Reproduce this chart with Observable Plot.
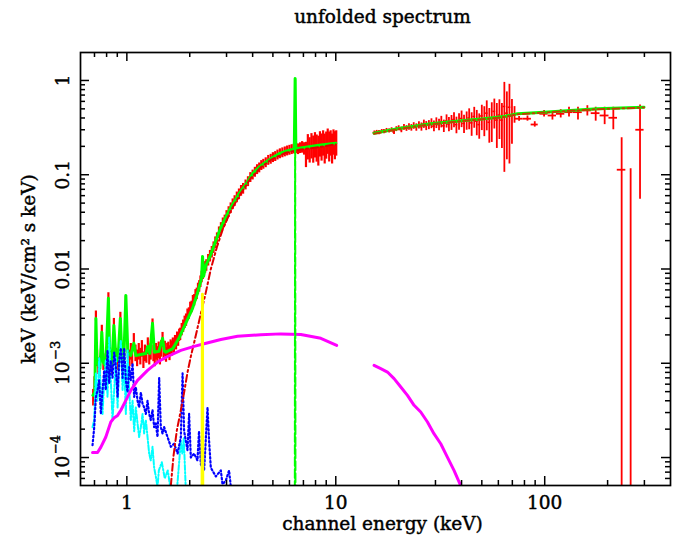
<!DOCTYPE html>
<html><head><meta charset="utf-8">
<script src="https://cdn.jsdelivr.net/npm/d3@7"></script>
<script src="https://cdn.jsdelivr.net/npm/@observablehq/plot@0.6"></script>
<style>body{margin:0;background:#fff;}</style>
</head><body><div id="chart"></div>
<script>
// ---- axes / ticks ----
const xDomain = [0.6, 400];
const yDomain = [5.05e-5, 1.98];
const xMajor = [1, 10, 100];
const xMajorLabels = ["1", "10", "100"];
const xMinor = [0.7,0.8,0.9,2,3,4,5,6,7,8,9,20,30,40,50,60,70,80,90,200,300];
const yMajor = [1e-4, 1e-3, 0.01, 0.1, 1];
const yPlain = [0.01, 0.1, 1];
const yPlainLabels = ["0.01", "0.1", "1"];
const yPow = [1e-4, 1e-3];
const yPowBase = ["10", "10"];
const yPowExp = ["\u22124", "\u22123"];
const yMinor = [6e-5,7e-5,8e-5,9e-5, 2e-4,3e-4,4e-4,5e-4,6e-4,7e-4,8e-4,9e-4,
  2e-3,3e-3,4e-3,5e-3,6e-3,7e-3,8e-3,9e-3, 0.02,0.03,0.04,0.05,0.06,0.07,0.08,0.09,
  0.2,0.3,0.4,0.5,0.6,0.7,0.8,0.9];
const titleText = "unfolded spectrum";
const xLabel = "channel energy (keV)";
const yLabel = "keV (keV/cm\u00B2 s keV)";

// ---- red data, 0.7-10 keV (energy, flux, relative error) ----
const dataLoE = [0.69,0.70,0.711,0.72,0.73,0.743,0.759,0.772,0.785,0.80,
  0.816,0.83,0.848,0.867,0.886,0.906,0.931,0.946,0.967,0.989,
  1.011,1.03,1.045,1.06,1.08,1.10,1.12,1.14,1.16,1.18,
  1.20,1.22,1.24,1.26,1.28,1.30,1.327,1.34,1.36,1.38,
  1.40,1.42,1.44,1.46,1.482,1.50,1.52,1.54,1.56,1.58,
  1.60,1.62,1.64,1.66,1.68,1.70,1.72,1.74,1.76,1.78,
  1.80,1.83,1.86,1.89,1.92,1.95,1.98,2.01,2.04,2.07,
  2.10,2.13,2.16,2.19,2.22,2.25,2.28,2.31,2.34,2.37,
  2.40,2.45,2.50,2.55,2.60,2.65,2.70,2.76,2.82,2.88,
  2.94,3.00,3.07,3.14,3.21,3.28,3.36,3.44,3.52,3.60,
  3.70,3.80,3.90,4.00,4.10,4.20,4.30,4.40,4.50,4.62,
  4.75,4.88,5.00,5.13,5.26,5.40,5.55,5.70,5.85,6.00,
  6.15,6.30,6.45,6.60,6.75,6.90,7.05,7.20,7.35,7.50,
  7.65,7.80,7.95,8.10,8.25,8.40,8.55,8.70,8.85,9.00,
  9.15,9.30,9.45,9.60,9.75,9.90,10.05];
const dataLoF = [4.4e-4,6.0e-4,3.2e-3,1.15e-3,9.5e-4,8.8e-4,2.2e-3,1.05e-3,9.0e-4,1.0e-3,
  5.0e-3,1.15e-3,9.5e-4,2.6e-3,1.2e-3,1.05e-3,3.1e-3,1.25e-3,1.1e-3,4.6e-3,
  1.4e-3,1.15e-3,1.35e-3,1.2e-3,1.75e-3,1.3e-3,1.15e-3,1.35e-3,1.2e-3,1.45e-3,
  1.1e-3,1.3e-3,1.25e-3,1.55e-3,1.2e-3,1.35e-3,2.5e-3,1.3e-3,1.15e-3,1.35e-3,
  1.25e-3,1.4e-3,1.2e-3,1.45e-3,1.8e-3,1.3e-3,1.45e-3,1.25e-3,1.38e-3,1.42e-3,
  1.3e-3,1.5e-3,1.45e-3,1.6e-3,1.5e-3,1.7e-3,1.65e-3,1.85e-3,1.8e-3,2.0e-3,
  2.05e-3,2.3e-3,2.5e-3,2.75e-3,2.9e-3,3.3e-3,3.4e-3,3.9e-3,4.0e-3,4.6e-3,
  4.7e-3,5.3e-3,5.5e-3,6.2e-3,6.6e-3,7.4e-3,8.3e-3,9.0e-3,9.6e-3,1.05e-2,
  0.0110,0.0125,0.0138,0.0152,0.0170,0.0192,0.0212,0.0245,0.0272,0.0305,
  0.0330,0.0368,0.0405,0.0445,0.049,0.053,0.058,0.0625,0.068,0.0715,
  0.0785,0.085,0.094,0.100,0.107,0.114,0.119,0.126,0.130,0.135,
  0.143,0.147,0.153,0.157,0.163,0.168,0.172,0.176,0.180,0.183,
  0.186,0.189,0.192,0.188,0.193,0.197,0.19,0.17,0.205,0.19,
  0.21,0.195,0.215,0.20,0.19,0.22,0.205,0.225,0.20,0.215,
  0.235,0.21,0.225,0.20,0.23,0.215,0.225];
const dataLoErr = [.2,.2,.12,.2,.2,.2,.15,.2,.2,.2,
  .12,.2,.2,.15,.2,.2,.12,.2,.2,.12,
  .2,.2,.2,.2,.18,.2,.2,.2,.2,.2,
  .2,.2,.2,.2,.2,.2,.18,.2,.2,.2,
  .2,.2,.2,.2,.18,.18,.18,.18,.18,.18,
  .18,.18,.18,.16,.16,.16,.16,.16,.16,.15,
  .15,.15,.15,.15,.15,.14,.14,.14,.14,.14,
  .14,.14,.14,.14,.14,.14,.14,.14,.14,.14,
  .14,.14,.14,.14,.14,.14,.14,.14,.14,.14,
  .13,.13,.13,.13,.13,.13,.13,.13,.13,.13,
  .12,.12,.12,.12,.12,.12,.12,.12,.12,.12,
  .12,.12,.12,.12,.12,.12,.12,.12,.12,.12,
  .12,.12,.13,.13,.13,.14,.15,.3,.3,.3,
  .3,.32,.3,.32,.35,.3,.32,.3,.35,.32,
  .3,.35,.3,.35,.3,.33,.3];

// ---- red data, 15-72 keV ----
const dataHiE = [15.3,15.7,16.1,16.6,17.0,17.5,18.0,18.5,19.0,19.5,
  20.0,20.6,21.2,21.8,22.4,23.0,23.6,24.3,25.0,25.7,
  26.4,27.1,27.9,28.7,29.5,30.3,31.2,32.0,32.9,33.9,
  34.8,35.8,36.8,37.8,38.9,40.0,41.1,42.3,43.5,44.7,
  46.0,47.3,48.6,50.0,51.4,52.8,54.3,55.8,57.4,59.0,
  60.7,62.4,64.1,65.9,67.8,69.7,71.7];
const dataHiF = [0.280,0.284,0.280,0.290,0.287,0.295,0.292,0.300,0.285,0.305,
  0.312,0.300,0.318,0.310,0.322,0.315,0.330,0.318,0.335,0.322,
  0.345,0.330,0.338,0.350,0.328,0.355,0.340,0.365,0.330,0.372,
  0.345,0.360,0.385,0.340,0.370,0.395,0.350,0.380,0.400,0.355,
  0.415,0.370,0.340,0.420,0.390,0.450,0.360,0.400,0.470,0.380,
  0.430,0.380,0.530,0.450,0.520,0.420,0.440];
const dataHiErr = [.04,.04,.05,.04,.05,.05,.05,.05,.06,.06,
  .06,.07,.07,.07,.08,.08,.08,.09,.09,.1,
  .1,.11,.11,.12,.13,.13,.14,.14,.15,.16,
  .17,.18,.18,.2,.2,.2,.22,.22,.25,.28,
  .25,.3,.3,.3,.35,.35,.4,.45,.35,.5,
  .45,.5,.8,.68,.75,.5,.2];

// ---- red data, wide bins above 75 keV ----
const binE = [75.4,82.7,89.6,99.3,108.9,119.3,130.7,144.3,160,175.4,193.6,213,233.5,257.8,285.9];
const binHalfWidth = [3.5,3.7,3.5,4.5,5,5.5,6,7,8,8.5,9.5,10,11,12,13];
const binF = [0.393,0.393,0.341,0.443,0.425,0.443,0.461,0.461,0.481,0.45,0.425,0.402,0.113,null,0.30];
const binLo = [0.37,0.37,0.32,0.41,0.38,0.40,0.41,0.38,0.42,0.37,0.34,0.30,1e-9,1e-9,0.055];
const binHi = [0.415,0.42,0.365,0.48,0.47,0.49,0.52,0.52,0.54,0.52,0.52,0.52,0.247,0.116,0.55];

// ---- total model (green) ----
const modelLoE = [0.688,0.703,0.711,0.719,0.743,0.759,0.772,0.793,0.816,0.829,
  0.848,0.867,0.886,0.906,0.931,0.946,0.967,0.989,1.011,1.045,
  1.080,1.104,1.167,1.233,1.260,1.288,1.327,1.354,1.423,1.482,
  1.512,1.537,1.660,1.774,1.894,2.063,2.162,2.278,2.303,2.328,
  2.388,2.523,2.666,2.817,2.977,3.145,3.446,3.71,3.996,4.28,
  4.625,4.995,5.356,5.83,6.33,6.39,6.44,7.19,8.32,10.0];
const modelLoF = [4.57e-4,4.91e-4,2.99e-3,1.07e-3,8.83e-4,2.13e-3,1.02e-3,9.27e-4,4.88e-3,1.07e-3,
  9.73e-4,2.52e-3,1.13e-3,1.07e-3,2.99e-3,1.21e-3,1.07e-3,5.25e-3,1.31e-3,1.21e-3,
  1.63e-3,1.21e-3,1.24e-3,1.27e-3,1.51e-3,1.27e-3,2.65e-3,1.31e-3,1.34e-3,1.84e-3,
  1.34e-3,1.31e-3,1.43e-3,1.84e-3,2.52e-3,3.82e-3,5.25e-3,7.94e-3,0.0136,8.35e-3,
  0.0109,0.0143,0.0201,0.0276,0.0355,0.045,0.0629,0.0789,0.1025,0.1195,
  0.136,0.1526,0.167,0.179,0.188,1.05,0.189,0.196,0.205,0.216];
const modelHiE = [15.25,19.73,28.5,41.1,51.2,63.9,74.0,99.2,133,178.6,298.6];
const modelHiF = [0.276,0.308,0.347,0.377,0.393,0.415,0.443,0.461,0.481,0.501,0.521];

// ---- absorbed continuum component (red dash-dot) ----
const compLoE = [1.588,1.624,1.673,1.735,1.813,1.880,1.951,2.024,2.139,2.26,
  2.388,2.523,2.696,2.880,3.145,3.512,3.92,4.377,4.887,5.75,6.80,8.23,10.0];
const compLoF = [3.5e-5,5.05e-5,1.05e-4,1.94e-4,3.17e-4,4.91e-4,8.0e-4,1.18e-3,1.98e-3,3.38e-3,
  5.65e-3,0.0100,0.0170,0.0265,0.0415,0.0635,0.092,0.120,0.144,0.171,0.185,0.196,0.210];
const compHiE = [15.25,19.73,28.5,41.1,51.2,63.9,74.0,99.2,133,178.6,298.6];
const compHiF = [0.272,0.304,0.343,0.373,0.389,0.410,0.438,0.456,0.476,0.496,0.516];

// ---- soft component (magenta) ----
const magLoE = [0.685,0.724,0.751,0.793,0.838,0.870,0.903,0.936,0.989,1.045,
  1.125,1.256,1.403,1.566,1.813,2.099,2.344,2.817,3.387,4.377,5.456,6.80,8.48,10.1];
const magLoF = [1.13e-4,1.13e-4,1.29e-4,1.65e-4,2.38e-4,2.65e-4,2.80e-4,3.17e-4,4.04e-4,5.16e-4,
  6.59e-4,8.41e-4,1.03e-3,1.18e-3,1.37e-3,1.51e-3,1.61e-3,1.79e-3,1.93e-3,2.01e-3,2.05e-3,2.02e-3,1.84e-3,1.55e-3];
const magHiE = [15.25,16.42,17.67,19.01,20.47,22.03,23.7,25.5,27.47,29.5,31.79,34.2,36.8,39.6,40.5];
const magHiF = [9.5e-4,8.77e-4,8.07e-4,6.87e-4,5.6e-4,4.57e-4,3.58e-4,3.04e-4,2.38e-4,1.79e-4,1.40e-4,1.01e-4,7.31e-5,5.05e-5,4.3e-5];

// ---- line-emission component (cyan dash-dot) ----
const cyanE = [0.685,0.698,0.711,0.724,0.737,0.751,0.765,0.779,0.793,0.808,
  0.823,0.838,0.854,0.870,0.886,0.903,0.919,0.936,0.954,0.971,
  0.989,1.008,1.026,1.045,1.065,1.084,1.104,1.125,1.145,1.167,
  1.189,1.210,1.233,1.256,1.279,1.302,1.327,1.351,1.376,1.402,
  1.423,1.470,1.519,1.570,1.624,1.735,1.813,1.842,1.873,1.916];
const cyanF = [2.1e-4,2.5e-4,7.8e-4,4.0e-4,1.15e-3,5.2e-4,2.9e-4,6.6e-4,1.07e-3,4.4e-4,
  1.9e-3,6.6e-4,2.5e-4,5.2e-4,1.15e-3,3.4e-4,1.0e-3,1.75e-3,5.2e-4,1.0e-3,
  2.9e-4,1.37e-3,5.2e-4,2.5e-4,4.0e-4,1.9e-4,3.4e-4,2.3e-4,1.65e-4,2.1e-4,
  2.9e-4,1.8e-4,2.5e-4,1.65e-4,1.1e-4,9.3e-5,1.3e-4,7.8e-5,6.3e-5,4.9e-5,
  7.3e-5,8.9e-5,6.0e-5,7.3e-5,4.4e-5,4.4e-5,1.5e-4,1.1e-4,1.6e-4,4.4e-5];

// ---- second line component (blue dotted) ----
const blueE = [0.685,0.698,0.711,0.724,0.737,0.751,0.765,0.779,0.793,0.808,
  0.823,0.838,0.854,0.870,0.886,0.903,0.919,0.936,0.954,0.971,
  0.989,1.008,1.026,1.045,1.065,1.084,1.104,1.125,1.145,1.167,
  1.189,1.210,1.233,1.256,1.279,1.302,1.327,1.351,1.376,1.402,
  1.428,1.454,1.482,1.508,1.566,1.624,1.684,1.749,1.813,1.848,
  1.880,1.951,1.986,2.024,2.098,2.178,2.215,2.260,2.343,2.433,
  2.475,2.523,2.666,2.817,2.870,2.977,3.085,3.145];
const blueF = [1.35e-4,2.1e-4,4.4e-4,5.2e-4,6.6e-4,2.9e-4,5.2e-4,8.4e-4,5.2e-4,1.37e-3,
  6.1e-4,1.07e-3,7.0e-4,1.3e-3,9.1e-4,4.4e-4,1.07e-3,1.45e-3,7.0e-4,1.45e-3,
  6.6e-4,4.9e-4,9.1e-4,6.6e-4,1.0e-3,4.4e-4,5.6e-4,4.0e-4,3.4e-4,4.9e-4,
  3.7e-4,3.4e-4,2.9e-4,4.0e-4,2.9e-4,2.5e-4,3.2e-4,2.1e-4,2.3e-4,1.65e-4,
  7.0e-4,2.1e-4,1.8e-4,2.1e-4,1.65e-4,1.3e-4,1.4e-4,1.1e-4,1.65e-4,7.8e-4,
  1.9e-4,1.2e-4,2.9e-4,1.0e-4,1.1e-4,9.3e-5,1.9e-4,8.5e-5,7.3e-5,3.4e-4,
  1.5e-4,7.8e-5,6.3e-5,7.3e-5,5.2e-5,5.7e-5,7.3e-5,4.9e-5];

// ---- narrow gaussian lines ----
const lineSiE = [2.285, 2.30, 2.315];
const lineSiF = [1e-6, 5.4e-3, 1e-6];
const lineFeE = [6.36, 6.39, 6.42];
const lineFeF = [1e-6, 1.02, 1e-6];

// ---- build tables ----
const zip = (E, F) => E.map((e, i) => ({E: e, F: F[i]}));
const lowData = dataLoE.map((e, i) => ({E: e, F: dataLoF[i], lo: dataLoF[i] * (1 - dataLoErr[i]), hi: dataLoF[i] * (1 + dataLoErr[i])}));
const hiData = dataHiE.map((e, i) => ({E: e, F: dataHiF[i], lo: dataHiF[i] * (1 - dataHiErr[i]), hi: dataHiF[i] * (1 + dataHiErr[i])}));
const bins = binE.map((e, i) => ({E: e, x1: e - binHalfWidth[i], x2: e + binHalfWidth[i], F: binF[i], lo: binLo[i], hi: binHi[i]}));

const W = 688, H = 538, mL = 80, mR = 18, mT = 52, mB = 53;
const fw = W - mL - mR, fh = H - mT - mB;
const RED = "#ff0000", GREEN = "#00ff00";
const font = "DejaVu Serif";
const txt = {fill: "#000", stroke: "#000", strokeWidth: 0.45, textAnchor: "middle", lineAnchor: "middle"};
const FS = 18.5;

const clip = true;
const chart = Plot.plot({
  width: W, height: H,
  marginLeft: mL, marginRight: mR, marginTop: mT, marginBottom: mB,
  x: {type: "log", domain: xDomain, axis: null},
  y: {type: "log", domain: yDomain, axis: null},
  style: {fontFamily: font, background: "#fff", color: "#000"},
  marks: [
    // data
    Plot.ruleX(lowData, {x: "E", y1: "lo", y2: "hi", stroke: RED, strokeWidth: 2.2, clip}),
    Plot.ruleX(hiData, {x: "E", y1: "lo", y2: "hi", stroke: RED, strokeWidth: 1.8, clip}),
    Plot.ruleY(hiData, {y: "F", x1: d => d.E * 0.985, x2: d => d.E * 1.015, stroke: RED, strokeWidth: 1.5, clip}),
    Plot.ruleX(bins, {x: "E", y1: "lo", y2: "hi", stroke: RED, strokeWidth: 1.8, clip}),
    Plot.ruleY(bins.filter(d => d.F != null), {y: "F", x1: "x1", x2: "x2", stroke: RED, strokeWidth: 1.8, clip}),
    // total model
    Plot.line(zip(modelLoE, modelLoF), {x: "E", y: "F", stroke: GREEN, strokeWidth: 3, clip}),
    Plot.line(zip(modelHiE, modelHiF), {x: "E", y: "F", stroke: GREEN, strokeWidth: 3, clip}),
    // components
    Plot.line(zip(cyanE, cyanF), {x: "E", y: "F", stroke: "#00ffff", strokeWidth: 2, strokeDasharray: "5,2,1.5,2", clip}),
    Plot.line(zip(blueE, blueF), {x: "E", y: "F", stroke: "#0000ff", strokeWidth: 2.2, strokeDasharray: "1.5,2.5", clip}),
    Plot.line(zip(compLoE, compLoF), {x: "E", y: "F", stroke: "#e00000", strokeWidth: 2, strokeDasharray: "7,3,2,3", clip}),
    Plot.line(zip(compHiE, compHiF), {x: "E", y: "F", stroke: "#c04000", strokeWidth: 2, strokeDasharray: "7,3,2,3", clip}),
    Plot.line(zip(magLoE, magLoF), {x: "E", y: "F", stroke: "#ff00ff", strokeWidth: 3, clip}),
    Plot.line(zip(magHiE, magHiF), {x: "E", y: "F", stroke: "#ff00ff", strokeWidth: 3, clip}),
    Plot.line(zip(lineSiE, lineSiF), {x: "E", y: "F", stroke: "#ffff00", strokeWidth: 3, clip}),
    Plot.line(zip(lineFeE, lineFeF), {x: "E", y: "F", stroke: GREEN, strokeWidth: 2, strokeDasharray: "9,3", clip}),
    // frame and inward ticks on all four sides
    Plot.frame({stroke: "#000", strokeWidth: 1.7}),
    Plot.tickX(xMajor, {x: d => d, insetTop: fh - 9, stroke: "#000", strokeWidth: 1.5}),
    Plot.tickX(xMajor, {x: d => d, insetBottom: fh - 9, stroke: "#000", strokeWidth: 1.5}),
    Plot.tickX(xMinor, {x: d => d, insetTop: fh - 5, stroke: "#000", strokeWidth: 1.5}),
    Plot.tickX(xMinor, {x: d => d, insetBottom: fh - 5, stroke: "#000", strokeWidth: 1.5}),
    Plot.tickY(yMajor, {y: d => d, insetRight: fw - 9, stroke: "#000", strokeWidth: 1.5}),
    Plot.tickY(yMajor, {y: d => d, insetLeft: fw - 9, stroke: "#000", strokeWidth: 1.5}),
    Plot.tickY(yMinor, {y: d => d, insetRight: fw - 5, stroke: "#000", strokeWidth: 1.5}),
    Plot.tickY(yMinor, {y: d => d, insetLeft: fw - 5, stroke: "#000", strokeWidth: 1.5}),
    // tick labels
    Plot.text(xMajor, {x: d => d, frameAnchor: "bottom", dy: 18, text: (d, i) => xMajorLabels[i], fontSize: FS, ...txt}),
    Plot.text(yPlain, {y: d => d, frameAnchor: "left", dx: -17, rotate: -90, text: (d, i) => yPlainLabels[i], fontSize: FS, ...txt}),
    Plot.text(yPow, {y: d => d, frameAnchor: "left", dx: -17, dy: 10, rotate: -90, text: (d, i) => yPowBase[i], fontSize: FS, ...txt}),
    Plot.text(yPow, {y: d => d, frameAnchor: "left", dx: -25, dy: -13, rotate: -90, text: (d, i) => yPowExp[i], fontSize: 13, ...txt}),
    // axis labels and title
    Plot.text([xLabel], {frameAnchor: "bottom", dx: 7, dy: 39, text: d => d, fontSize: FS, ...txt}),
    Plot.text([yLabel], {frameAnchor: "left", dx: -51, rotate: -90, text: d => d, fontSize: FS, ...txt}),
    Plot.text([titleText], {frameAnchor: "top", dx: 7, dy: -35, text: d => d, fontSize: FS, ...txt})
  ]
});
document.getElementById("chart").appendChild(chart);
</script>
</body></html>
